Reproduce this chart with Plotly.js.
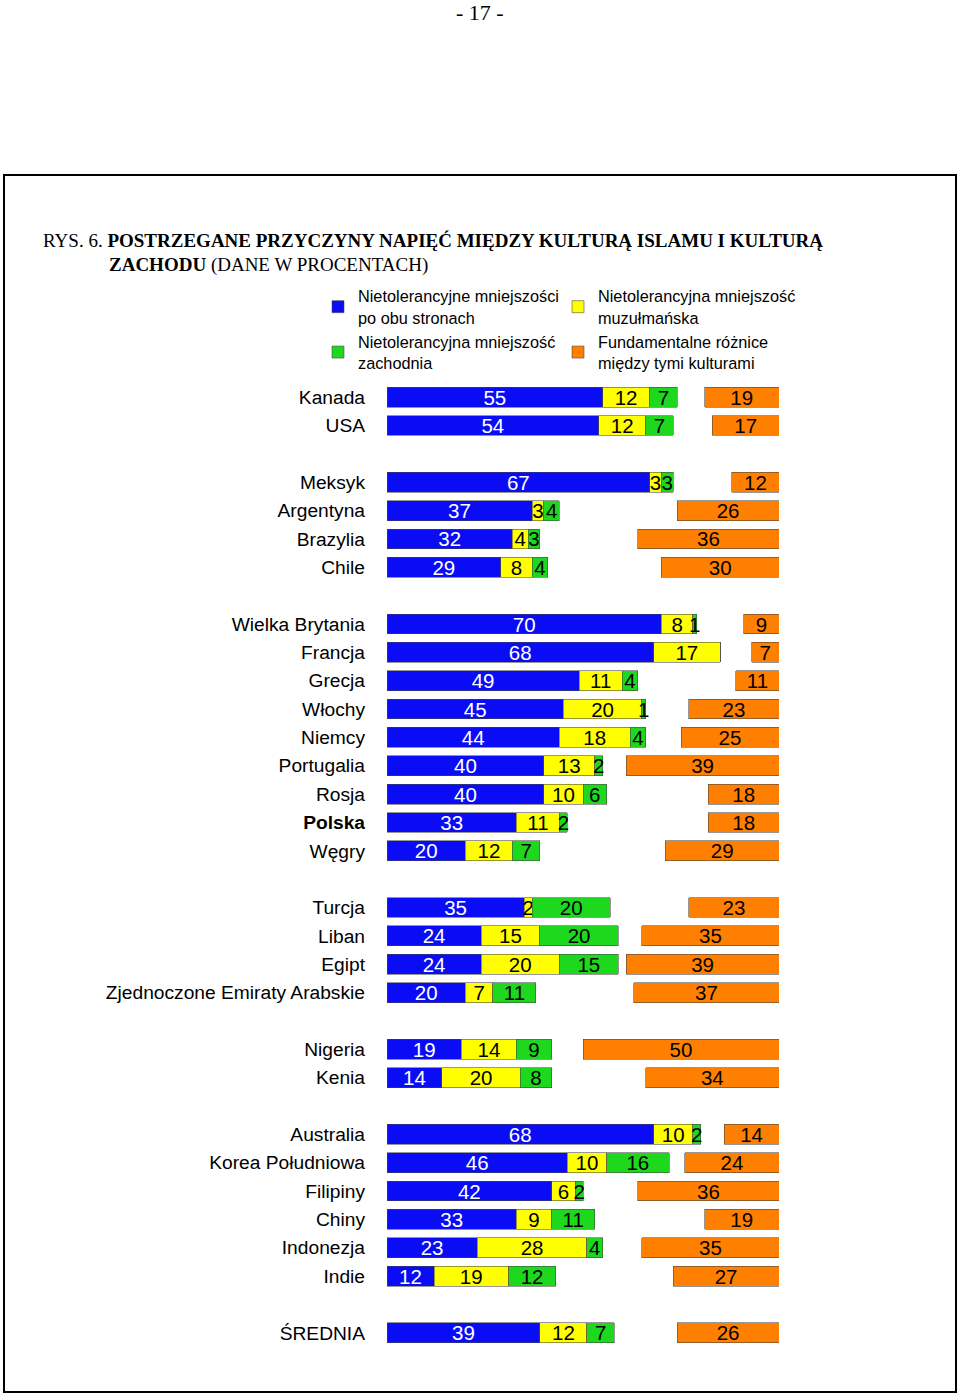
<!DOCTYPE html>
<html>
<head>
<meta charset="utf-8">
<script src="https://cdn.plot.ly/plotly-3.0.1.min.js"></script>
<style>
  html, body { margin: 0; padding: 0; background: #ffffff; }
  #chart { width: 960px; height: 1396px; }
</style>
</head>
<body>
<div id="chart"></div>
<script>
// ---- DATA ----
const countries = ["Kanada","USA",
  "Meksyk","Argentyna","Brazylia","Chile",
  "Wielka Brytania","Francja","Grecja","Włochy","Niemcy","Portugalia","Rosja","Polska","Węgry",
  "Turcja","Liban","Egipt","Zjednoczone Emiraty Arabskie",
  "Nigeria","Kenia",
  "Australia","Korea Południowa","Filipiny","Chiny","Indonezja","Indie",
  "ŚREDNIA"];
const groupSizes = [2, 4, 9, 4, 2, 6, 1];
const boldCountries = ["Polska"];

const bothSides   = [55,54,67,37,32,29,70,68,49,45,44,40,40,33,20,35,24,24,20,19,14,68,46,42,33,23,12,39];
const muslimMin   = [12,12, 3, 3, 4, 8, 8,17,11,20,18,13,10,11,12, 2,15,20, 7,14,20,10,10, 6, 9,28,19,12];
const westernMin  = [ 7, 7, 3, 4, 3, 4, 1, 0, 4, 1, 4, 2, 6, 2, 7,20,20,15,11, 9, 8, 2,16, 2,11, 4,12, 7];
const fundamental = [19,17,12,26,36,30, 9, 7,11,23,25,39,18,18,29,23,35,39,37,50,34,14,24,36,19,35,27,26];

const seriesNames = [
  "Nietolerancyjne mniejszości<br>po obu stronach",
  "Nietolerancyjna mniejszość<br>muzułmańska",
  "Nietolerancyjna mniejszość<br>zachodnia",
  "Fundamentalne różnice<br>między tymi kulturami"
];

// ---- ROW POSITIONS (one empty slot between groups) ----
const yPos = [];
let idx = 0;
groupSizes.forEach((n, g) => {
  for (let i = 0; i < n; i++) { yPos.push(idx + g); idx++; }
});
const nSlots = yPos[yPos.length - 1] + 1;
const tickText = countries.map(c => boldCountries.includes(c) ? "<b>" + c + "</b>" : c);

// ---- PAGE GEOMETRY ----
const W = 960, H = 1396;
const M = { l: 387, r: 181, t: 383, b: 49 };
const pw = W - M.l - M.r, ph = H - M.t - M.b;
const px = x => (x - M.l) / pw;
const py = y => (H - M.b - y) / ph;

const FONT = "Liberation Sans, Arial, Helvetica, sans-serif";
const SERIF = "Liberation Serif, Times New Roman, serif";
const lbl = arr => arr.map(v => v ? String(v) : "");

function barTrace(vals, name, color, txtColor, xaxis, legend) {
  return {
    type: "bar", orientation: "h",
    x: vals, y: yPos, name: name,
    xaxis: xaxis, yaxis: "y",
    legend: legend,
    marker: { color: color, line: { color: "rgba(70,70,70,0.7)", width: 0.8 } },
    text: lbl(vals),
    textposition: "inside", insidetextanchor: "middle",
    textangle: 0, constraintext: "none", cliponaxis: false,
    textfont: { family: FONT, size: 20.5, color: txtColor },
    hoverinfo: "x+y"
  };
}

const data = [
  barTrace(bothSides,   seriesNames[0], "#0a0cf6", "#ffffff", "x",  "legend"),
  barTrace(muslimMin,   seriesNames[1], "#ffff00", "#000000", "x",  "legend2"),
  barTrace(westernMin,  seriesNames[2], "#1ed81e", "#000000", "x",  "legend"),
  barTrace(fundamental, seriesNames[3], "#ff8000", "#000000", "x2", "legend2")
];

const legendCommon = {
  orientation: "v", xanchor: "left", yanchor: "top",
  traceorder: "normal",
  font: { family: FONT, size: 16.3, color: "#000" },
  bgcolor: "rgba(0,0,0,0)", borderwidth: 0,
  tracegroupgap: 6, valign: "middle"
};

const layout = {
  width: W, height: H,
  margin: M,
  paper_bgcolor: "#ffffff", plot_bgcolor: "#ffffff",
  barmode: "stack", bargap: 0.3,
  showlegend: true,
  legend:  Object.assign({}, legendCommon, { x: px(318), y: py(279) }),
  legend2: Object.assign({}, legendCommon, { x: px(558), y: py(279) }),
  xaxis:  { range: [0, 100], visible: false, fixedrange: true },
  xaxis2: { range: [100, 0], overlaying: "x", visible: false, fixedrange: true },
  yaxis: {
    range: [nSlots - 0.5, -0.5],
    tickmode: "array", tickvals: yPos, ticktext: tickText,
    showgrid: false, zeroline: false, showline: false, ticks: "",
    ticklabelstandoff: 21,
    tickfont: { family: FONT, size: 19.2, color: "#000" },
    fixedrange: true
  },
  shapes: [
    { type: "rect", xref: "paper", yref: "paper",
      x0: px(4), x1: px(956), y0: py(1392), y1: py(175),
      line: { color: "#000", width: 2 }, fillcolor: "rgba(0,0,0,0)", layer: "below" }
  ],
  annotations: [
    { text: "- 17 -", xref: "paper", yref: "paper", x: px(480), y: py(12),
      xanchor: "center", yanchor: "middle", showarrow: false,
      font: { family: SERIF, size: 22, color: "#000" } },
    { text: "RYS. 6. <b>POSTRZEGANE PRZYCZYNY NAPIĘĆ MIĘDZY KULTURĄ ISLAMU I KULTURĄ</b>",
      xref: "paper", yref: "paper", x: px(41), y: py(240),
      xanchor: "left", yanchor: "middle", showarrow: false,
      font: { family: SERIF, size: 19, color: "#000" } },
    { text: "<b>ZACHODU</b> (DANE W PROCENTACH)",
      xref: "paper", yref: "paper", x: px(107), y: py(265),
      xanchor: "left", yanchor: "middle", showarrow: false,
      font: { family: SERIF, size: 19, color: "#000" } }
  ]
};

Plotly.newPlot("chart", data, layout, { displayModeBar: false, staticPlot: true });
</script>
</body>
</html>
